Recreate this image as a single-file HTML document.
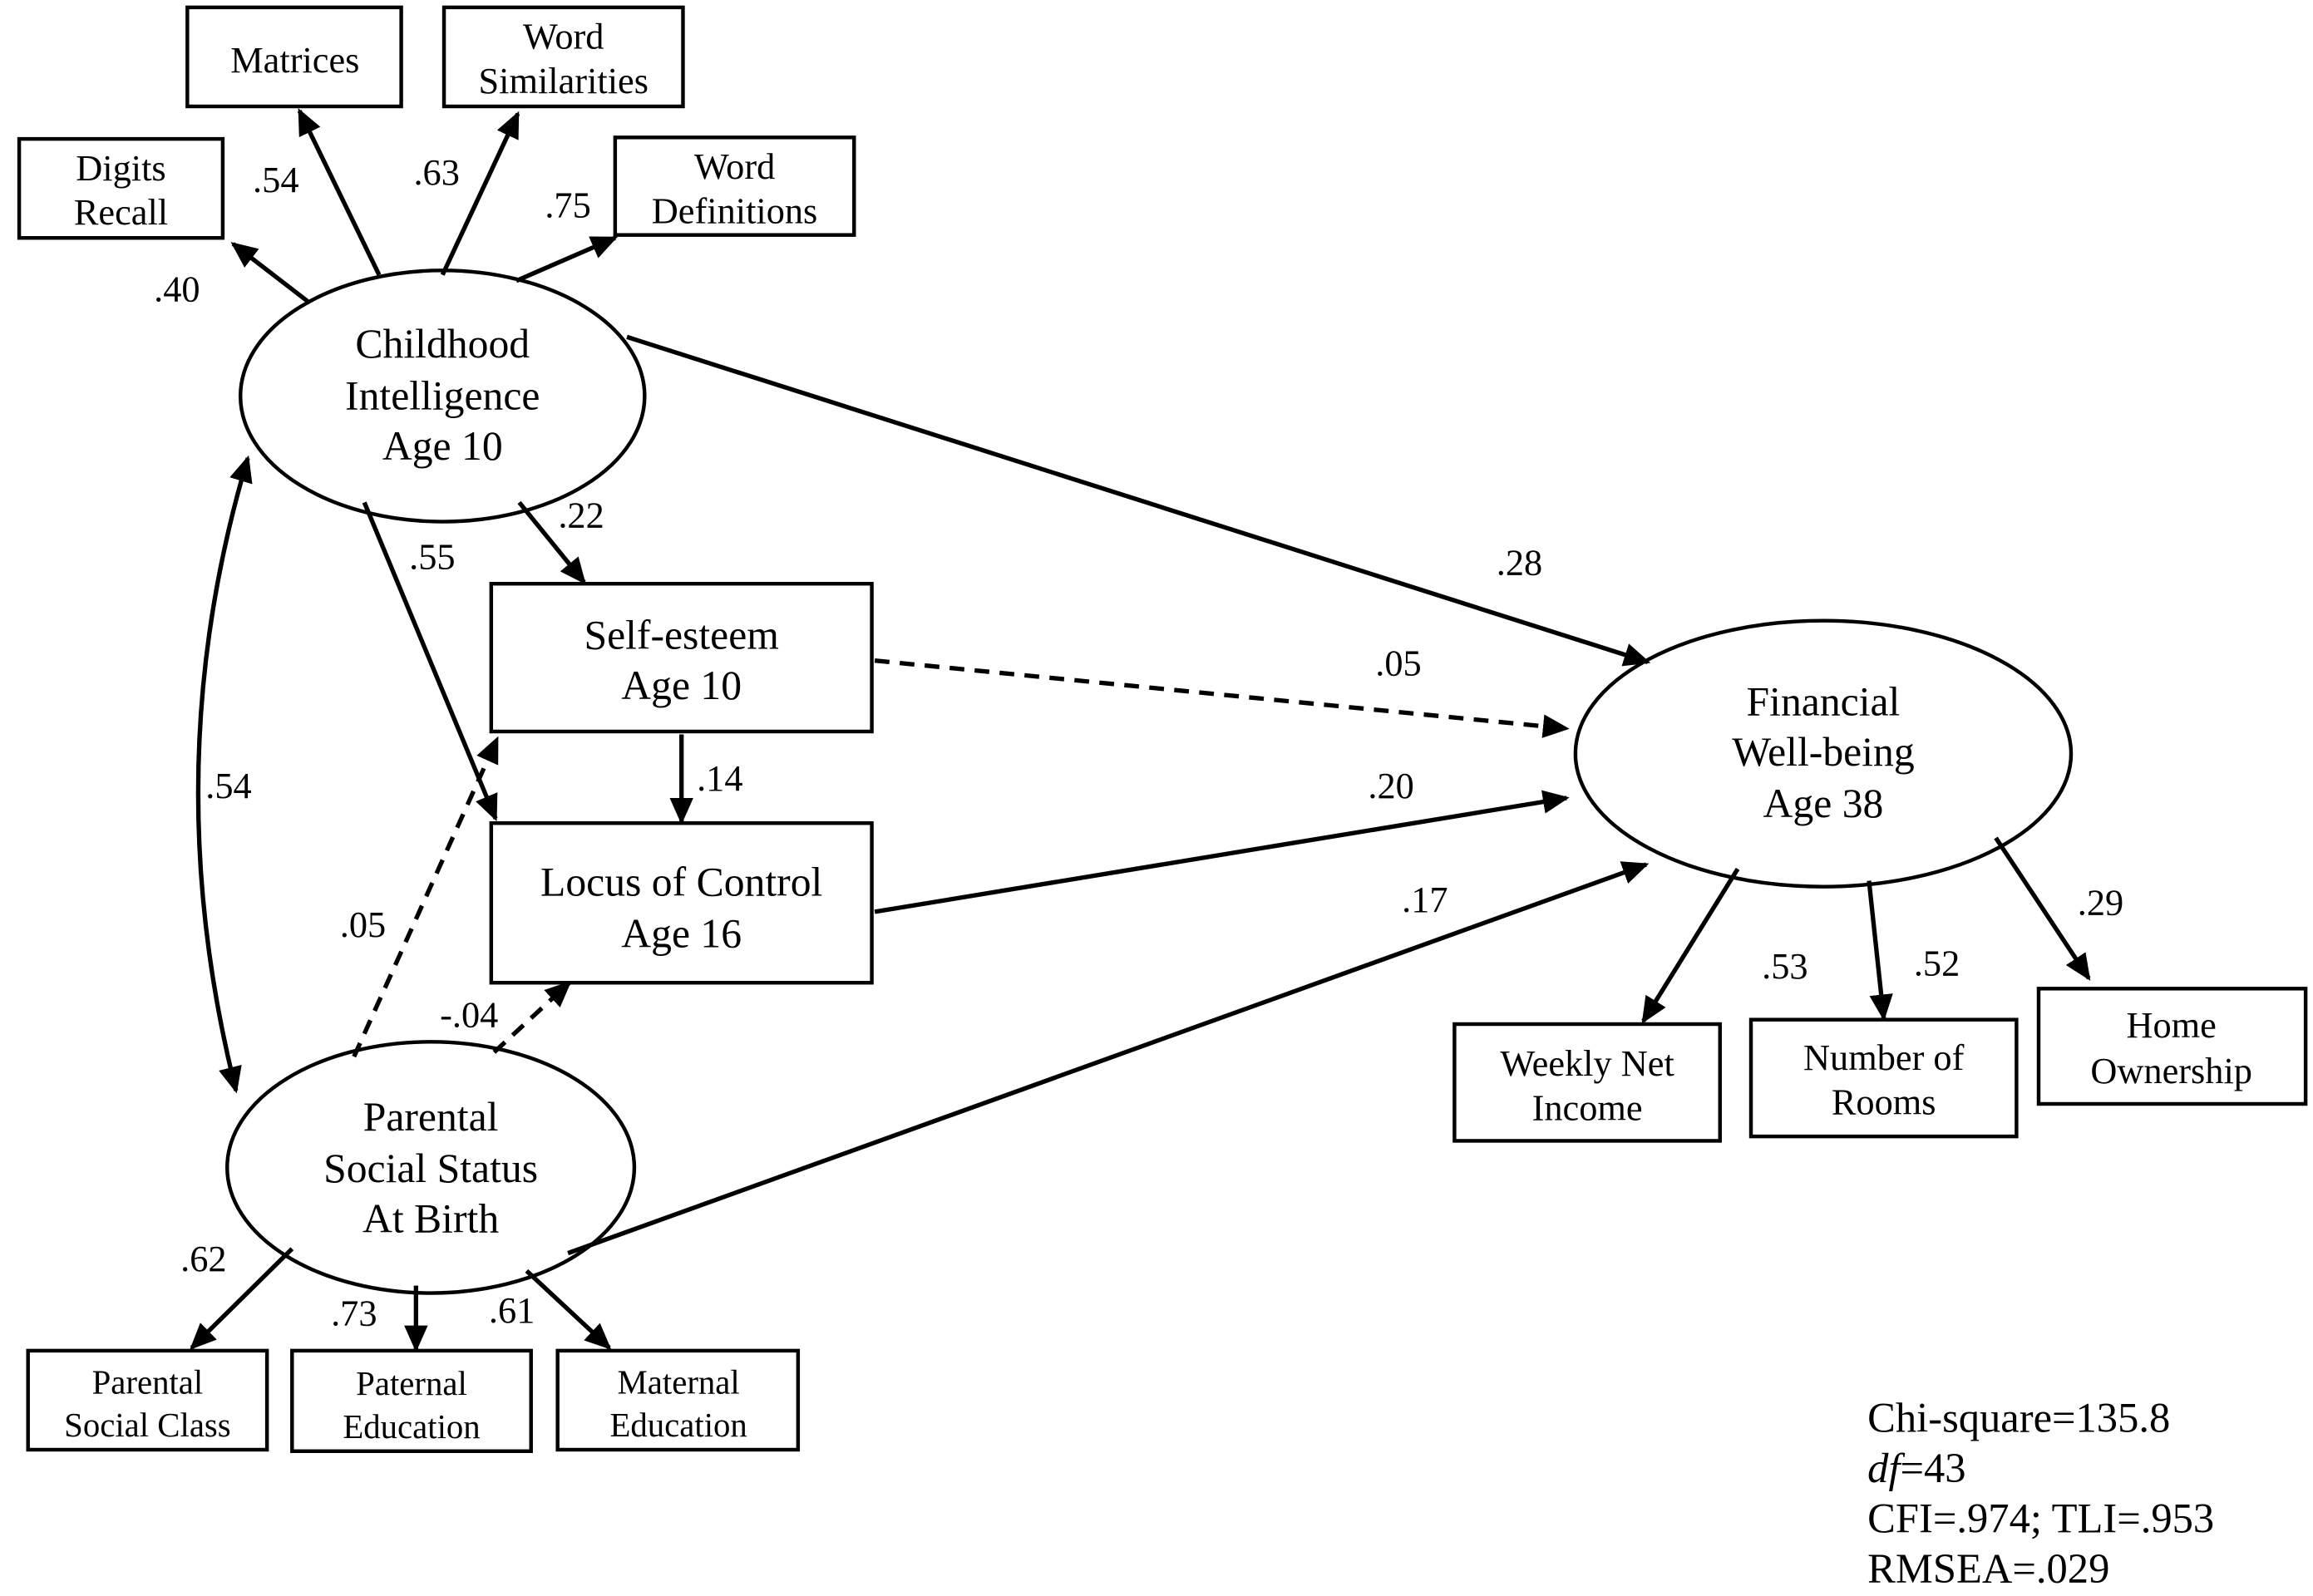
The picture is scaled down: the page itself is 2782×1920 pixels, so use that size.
<!DOCTYPE html>
<html><head><style>html,body{margin:0;padding:0;background:#fff}svg{display:block}</style></head><body>
<svg width="2782" height="1920" viewBox="0 0 1568 1080" preserveAspectRatio="none" xmlns="http://www.w3.org/2000/svg" font-family="Liberation Serif, serif">
<defs>
<marker id="ah" markerWidth="18" markerHeight="16" refX="16" refY="8" orient="auto" markerUnits="userSpaceOnUse"><path d="M0,0 L18,8 L0,16 z" fill="#000"/></marker>
<marker id="as" markerWidth="18" markerHeight="16" refX="2" refY="8" orient="auto" markerUnits="userSpaceOnUse"><path d="M18,0 L0,8 L18,16 z" fill="#000"/></marker>
</defs>
<g fill="none" stroke="#000" stroke-width="2.5">
<rect x="127" y="5" width="145" height="67"/>
<rect x="301" y="5" width="162" height="67"/>
<rect x="13" y="94" width="138" height="67"/>
<rect x="417" y="93" width="162" height="66"/>
<ellipse cx="300" cy="268" rx="137" ry="85"/>
<rect x="333" y="395" width="258" height="100"/>
<rect x="333" y="557" width="258" height="108"/>
<ellipse cx="1236" cy="510" rx="168" ry="90"/>
<ellipse cx="292" cy="790" rx="138" ry="85"/>
<rect x="986" y="693" width="180" height="79"/>
<rect x="1187" y="690" width="180" height="79"/>
<rect x="1382" y="669" width="181" height="78"/>
<rect x="19" y="914" width="162" height="67"/>
<rect x="198" y="914" width="162" height="68"/>
<rect x="378" y="914" width="163" height="67"/>
</g>
<g fill="none" stroke="#000" stroke-width="3" marker-end="url(#ah)">
<line x1="210" y1="205" x2="158" y2="165"/>
<line x1="257" y1="186" x2="203" y2="75"/>
<line x1="300" y1="186" x2="351" y2="77"/>
<line x1="350" y1="190" x2="417" y2="161"/>
<line x1="425" y1="228" x2="1117" y2="448"/>
<line x1="352" y1="340" x2="396" y2="394"/>
<line x1="247" y1="340" x2="336" y2="554"/>
<line x1="593" y1="447" x2="1062" y2="493" stroke-dasharray="10,7"/>
<line x1="462" y1="497" x2="462" y2="556"/>
<line x1="593" y1="617" x2="1062" y2="540"/>
<line x1="385" y1="848" x2="1116" y2="585"/>
<line x1="240" y1="715" x2="337" y2="500" stroke-dasharray="10,7"/>
<line x1="335" y1="712" x2="386" y2="665" stroke-dasharray="10,7"/>
<line x1="198" y1="845" x2="130" y2="912"/>
<line x1="282" y1="870" x2="282" y2="913"/>
<line x1="357" y1="860" x2="413" y2="912"/>
<line x1="1178" y1="588" x2="1114" y2="691"/>
<line x1="1267" y1="596" x2="1277" y2="689"/>
<line x1="1353" y1="567" x2="1416" y2="662"/>
<path d="M168,310 Q105,520 160,738" marker-start="url(#as)"/>
</g>
<g font-size="25" text-anchor="middle" fill="#000">
<text x="200" y="49">Matrices</text>
<text x="382" y="33">Word</text><text x="382" y="63">Similarities</text>
<text x="82" y="122">Digits</text><text x="82" y="152">Recall</text>
<text x="498" y="121">Word</text><text x="498" y="151">Definitions</text>
<text x="300" y="242" font-size="28">Childhood</text><text x="300" y="277" font-size="28">Intelligence</text><text x="300" y="311" font-size="28">Age 10</text>
<text x="462" y="439" font-size="28">Self-esteem</text><text x="462" y="473" font-size="28">Age 10</text>
<text x="462" y="606" font-size="28">Locus of Control</text><text x="462" y="641" font-size="28">Age 16</text>
<text x="1236" y="484" font-size="28">Financial</text><text x="1236" y="518" font-size="28">Well-being</text><text x="1236" y="553" font-size="28">Age 38</text>
<text x="292" y="765" font-size="28">Parental</text><text x="292" y="800" font-size="28">Social Status</text><text x="292" y="834" font-size="28">At Birth</text>
<text x="1076" y="728">Weekly Net</text><text x="1076" y="758">Income</text>
<text x="1277" y="724">Number of</text><text x="1277" y="754">Rooms</text>
<text x="1472" y="702">Home</text><text x="1472" y="733">Ownership</text>
<text x="100" y="943" font-size="23">Parental</text><text x="100" y="972" font-size="23">Social Class</text>
<text x="279" y="944" font-size="23">Paternal</text><text x="279" y="973" font-size="23">Education</text>
<text x="460" y="943" font-size="23">Maternal</text><text x="460" y="972" font-size="23">Education</text>
</g>
<g font-size="25" text-anchor="middle" fill="#000">
<text x="120" y="204">.40</text>
<text x="187" y="130">.54</text>
<text x="296" y="125">.63</text>
<text x="385" y="147">.75</text>
<text x="1030" y="389">.28</text>
<text x="394" y="357">.22</text>
<text x="293" y="385">.55</text>
<text x="948" y="457">.05</text>
<text x="488" y="535">.14</text>
<text x="943" y="540">.20</text>
<text x="966" y="617">.17</text>
<text x="246" y="634">.05</text>
<text x="318" y="695">-.04</text>
<text x="155" y="540">.54</text>
<text x="138" y="860">.62</text>
<text x="240" y="897">.73</text>
<text x="347" y="895">.61</text>
<text x="1210" y="662">.53</text>
<text x="1313" y="660">.52</text>
<text x="1424" y="619">.29</text>
</g>
<g font-size="28.5" fill="#000">
<text x="1266" y="969">Chi-square=135.8</text>
<text x="1266" y="1003"><tspan font-style="italic">df</tspan>=43</text>
<text x="1266" y="1037">CFI=.974; TLI=.953</text>
<text x="1266" y="1071">RMSEA=.029</text>
</g>
</svg>
</body></html>
